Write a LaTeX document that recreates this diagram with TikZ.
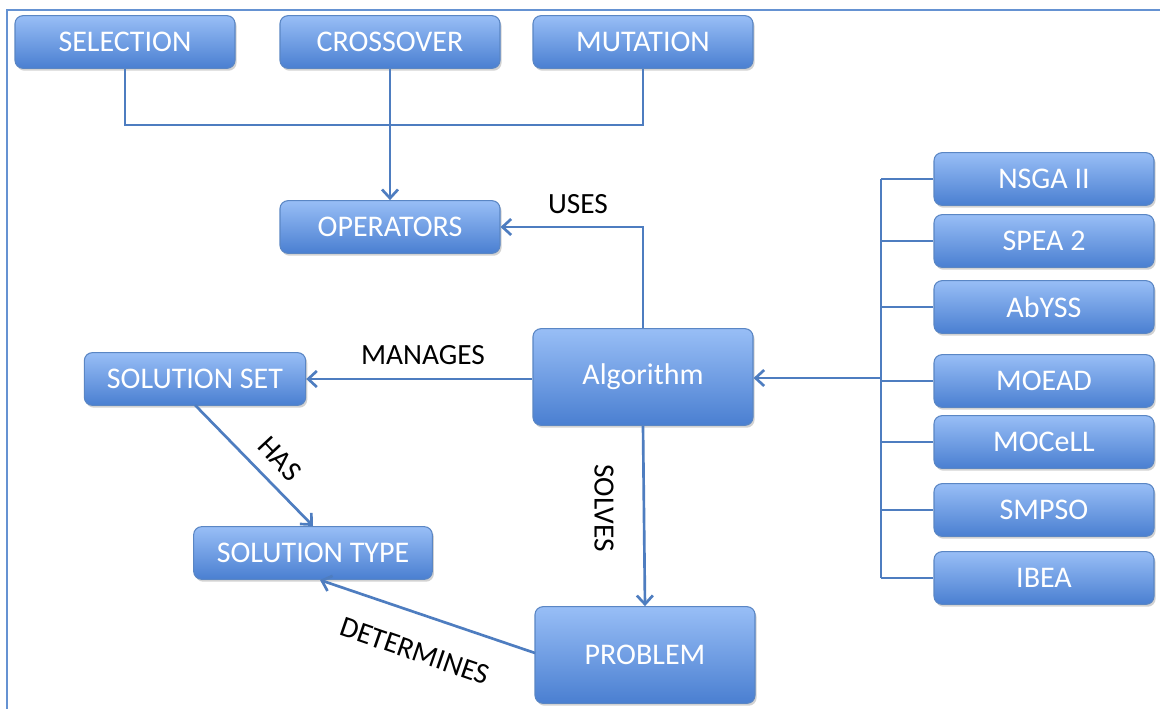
\documentclass[tikz,border=0pt]{standalone}
\usepackage{fontspec}
\setmainfont{Carlito}
\usetikzlibrary{arrows.meta,shadows}
\definecolor{boxtop}{HTML}{98BEF6}
\definecolor{boxbot}{HTML}{4A7FD1}
\definecolor{boxline}{HTML}{5A86C4}
\definecolor{wire}{HTML}{4E7DC0}
\definecolor{framec}{HTML}{6592D2}
\begin{document}
\begin{tikzpicture}[x=0.75pt,y=-0.75pt,
  blockbox/.style={draw=boxline, line width=0.8pt, rounded corners=6pt,
    top color=boxtop, bottom color=boxbot, text=white,
    font=\fontsize{22.5}{26}\selectfont, inner sep=0pt,
    minimum width=165pt, minimum height=39.5pt,
    drop shadow={shadow xshift=1.2pt, shadow yshift=-1.8pt, opacity=0.35}},
  bigbox/.style={blockbox, minimum height=72.5pt},
  wireline/.style={draw=wire, line width=2pt},
  arr/.style={wireline, -{Straight Barb[length=6.5pt,width=12pt,line width=2pt]}},
  lbl/.style={font=\fontsize{22}{26}\selectfont, text=black, inner sep=0pt}]
\useasboundingbox (0,0) rectangle (1160,709);
\fill[white] (0,0) rectangle (1160,709);
% outer frame (top and left edges)
\draw[framec, line width=1.8pt] (7,709) -- (7,10) -- (1160,10);

% operator boxes
\node[blockbox] (sel) at (125,42) {SELECTION};
\node[blockbox] (cro) at (390,42) {CROSSOVER};
\node[blockbox] (mut) at (643,42) {MUTATION};
\node[blockbox] (ops) at (390,227) {OPERATORS};

% core boxes
\node[bigbox] (alg) at (643,377) {Algorithm};
\node[bigbox] (prb) at (645,655) {PROBLEM};
\node[blockbox, minimum width=166pt] (sset) at (195,379) {SOLUTION SET};
\node[blockbox, minimum width=179pt] (stype) at (313,553) {SOLUTION TYPE};

% algorithm variants
\node[blockbox] (nsga) at (1044,179) {NSGA II};
\node[blockbox] (spea) at (1044,241) {SPEA 2};
\node[blockbox] (abyss) at (1044,307) {AbYSS};
\node[blockbox] (moead) at (1044,381) {MOEAD};
\node[blockbox] (mocell) at (1044,442) {MOCeLL};
\node[blockbox] (smpso) at (1044,510) {SMPSO};
\node[blockbox] (ibea) at (1044,578) {IBEA};

% bus joining the operators
\coordinate (busL) at (125,125);
\coordinate (busR) at (643,125);
\draw[wireline] (sel.south) -- (busL) -- (busR) -- (mut.south);
\draw[arr] (cro.south) -- (ops.north);

% relations
\coordinate (usesK) at (643,227);
\draw[arr] (alg.north) -- (usesK) -- (ops.east);
\node[lbl] (uses) at (578,204) {USES};

\draw[arr] (alg.west |- sset.east) -- (sset.east);
\node[lbl] (manages) at (423,355) {MANAGES};

\coordinate (hasS) at (195,405);
\coordinate (hasE) at (313,526);
\draw[arr] (hasS) -- (hasE);
\node[lbl, rotate=-47] (has) at (280,459) {HAS};

\draw[arr] (alg.south) -- (prb.north);
\node[lbl, rotate=-90] (solves) at (604,508) {SOLVES};

\coordinate (detS) at (535,653);
\coordinate (detE) at (320,580);
\draw[arr] (detS) -- (detE);
\node[lbl, rotate=-19] (determines) at (415,651) {DETERMINES};

% variants bus
\coordinate (vTop) at (881,179);
\coordinate (vBot) at (881,578);
\draw[wireline] (vTop) -- (vBot);
\foreach \n in {nsga,spea,abyss,moead,mocell,smpso,ibea}
  \draw[wireline] (\n.west) -- (vTop |- \n.west);
\coordinate (vMid) at (881,378);
\draw[arr] (vMid) -- (alg.east |- vMid);
\end{tikzpicture}
\end{document}
